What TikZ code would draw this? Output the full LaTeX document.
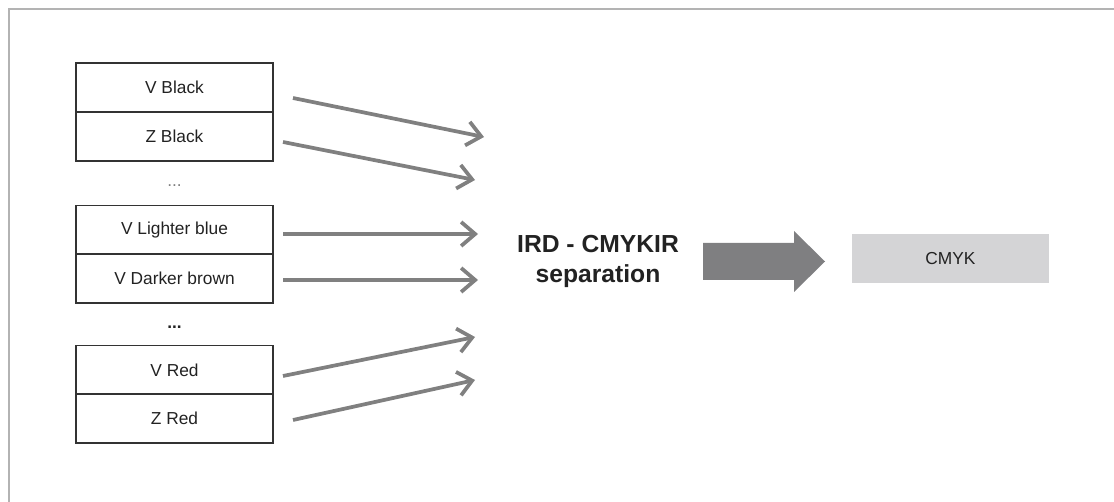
\documentclass[tikz,border=0pt]{standalone}
\usepackage{fontspec}
\setmainfont{Liberation Sans}
\usetikzlibrary{arrows.meta}
\definecolor{framegray}{HTML}{B3B3B3}
\definecolor{arrowgray}{HTML}{808080}
\definecolor{boxline}{HTML}{333333}
\definecolor{txt}{HTML}{222222}
\definecolor{cmykfill}{HTML}{D4D4D6}
\definecolor{bigarrow}{HTML}{7F7F81}
\tikzset{
  labelbox/.style={draw=boxline, line width=1.1pt, minimum width=147.75pt, minimum height=36.75pt, inner sep=0pt, text=txt, font=\fontsize{13pt}{15pt}\selectfont},
  feed/.style={draw=arrowgray, line width=2.8pt, -{Straight Barb[length=10.5pt, width=18pt]}},
  dots/.style={anchor=base, inner sep=0pt}
}
\begin{document}
\begin{tikzpicture}[x=0.75pt, y=-0.75pt]
\useasboundingbox (0,0) rectangle (1114,502);
% frame
\draw[framegray, line width=1.5pt] (9,502) -- (9,9) -- (1114,9);
% boxes
\node[labelbox] (vblack) at (174.5,87.5) {V Black};
\node[labelbox] (zblack) at (174.5,136.5) {Z Black};
\node[dots, text=arrowgray, font=\fontsize{13pt}{15pt}\selectfont] (dotsa) at (174.5,187) {...};
\node[labelbox] (vlblue) at (174.5,230) {V Lighter blue};
\node[labelbox] (vdbrown) at (174.5,278.5) {V Darker brown};
\node[dots, text=txt, font=\bfseries\fontsize{13pt}{15pt}\selectfont] (dotsb) at (174.5,329) {...};
\node[labelbox] (vred) at (174.5,370) {V Red};
\node[labelbox] (zred) at (174.5,418.5) {Z Red};
% feed arrows
\coordinate (s1) at (293,98);  \coordinate (t1) at (484,137);
\coordinate (s2) at (283,142); \coordinate (t2) at (475,180);
\coordinate (s3) at (283,234); \coordinate (t3) at (478,234);
\coordinate (s4) at (283,280); \coordinate (t4) at (478,280);
\coordinate (s5) at (283,376); \coordinate (t5) at (475,337);
\coordinate (s6) at (293,420); \coordinate (t6) at (475,380);
\foreach \i in {1,...,6} \draw[feed] (s\i) -- (t\i);
% separation label
\node[align=center, text=txt, font=\bfseries\fontsize{18.5pt}{22.5pt}\selectfont, inner sep=0pt] (sep) at (598,261) {IRD - CMYKIR\\separation};
% CMYK box
\node[fill=cmykfill, minimum width=147.75pt, minimum height=36.75pt, inner sep=0pt, text=txt, font=\fontsize{13pt}{15pt}\selectfont] (cmyk) at (950.5,258.5) {CMYK};
% big arrow
\fill[bigarrow] (703,243) -- (794,243) -- (794,231) -- (825,261.5) -- (794,292) -- (794,280) -- (703,280) -- cycle;
\end{tikzpicture}
\end{document}
